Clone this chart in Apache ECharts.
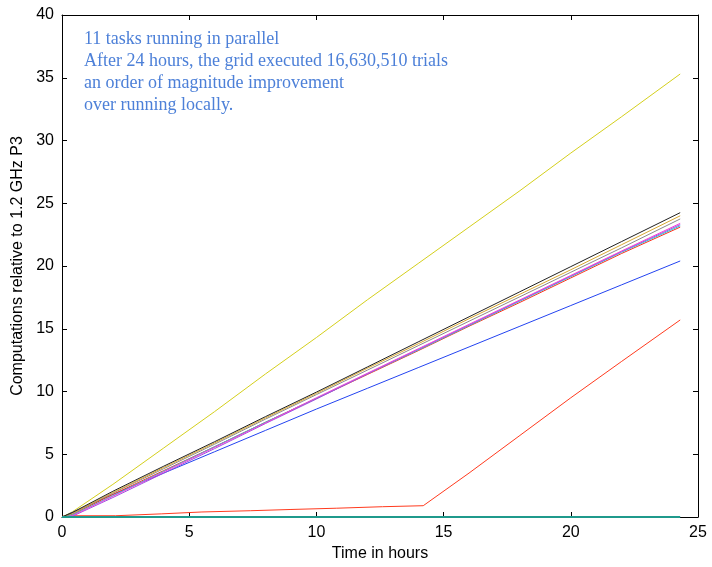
<!DOCTYPE html>
<html>
<head>
<meta charset="utf-8">
<script src="https://cdn.jsdelivr.net/npm/echarts@6/dist/echarts.min.js"></script>
<style>
  html, body { margin: 0; padding: 0; background: #fff; }
  #chart { width: 712px; height: 567px; }
</style>
</head>
<body>
<div id="chart"></div>
<script>
// sample times (hours) shared by most tasks
const hours = [0, 0.4, 2, 4, 6, 8, 10, 12, 14, 16, 18, 20, 22, 24.3];

const yellowTask = [0, 0.4, 2.6, 5.5, 8.4, 11.4, 14.3, 17.3, 20.2, 23.1, 26.0, 29.0, 31.9, 35.3];
const blackTask = [0, 0.35, 2.05, 4.05, 6.0, 8.0, 9.95, 11.95, 13.95, 15.95, 17.95, 19.95, 21.95, 24.25];
const goldTask = [0, 0.3, 1.95, 3.95, 5.9, 7.9, 9.85, 11.85, 13.8, 15.8, 17.75, 19.7, 21.7, 24.0];
const grayTask = [0, 0.25, 1.9, 3.85, 5.8, 7.8, 9.75, 11.7, 13.65, 15.6, 17.55, 19.5, 21.45, 23.75];
const magentaTask = [0, 0.1, 1.65, 3.6, 5.55, 7.5, 9.5, 11.45, 13.4, 15.35, 17.3, 19.25, 21.2, 23.4];
const purpleTask = [0, 0.05, 1.55, 3.5, 5.45, 7.45, 9.4, 11.4, 13.35, 15.3, 17.25, 19.2, 21.15, 23.3];
const cyanTask = [0, 0.15, 1.7, 3.65, 5.6, 7.55, 9.45, 11.4, 13.3, 15.25, 17.2, 19.15, 21.1, 23.2];
const redTask = [0, 0.2, 1.8, 3.7, 5.6, 7.55, 9.45, 11.35, 13.25, 15.2, 17.1, 19.05, 21.0, 23.1];
const blueTask = [0, 0.35, 1.8, 3.5, 5.2, 6.9, 8.6, 10.25, 11.9, 13.55, 15.2, 16.85, 18.5, 20.4];
const tealTask = [0, 0, 0, 0, 0, 0, 0, 0, 0, 0, 0, 0, 0, 0];

// late starting task (own time samples)
const lateHours = [0, 0.3, 2.1, 2.1, 3.9, 3.9, 5.5, 5.5, 7.4, 7.4, 9.0, 9.0, 10.8, 10.8, 12.6, 12.6, 14.2, 16, 18, 20, 22, 24.3];
const lateTask = [0.05, 0.1, 0.1, 0.25, 0.25, 0.4, 0.4, 0.5, 0.5, 0.6, 0.6, 0.7, 0.7, 0.82, 0.82, 0.9, 0.9, 3.5, 6.5, 9.5, 12.4, 15.7];

const xTicks = [0, 25, 5];
const yTicks = [0, 40, 5];

const noteLines = [
  '11 tasks running in parallel',
  'After 24 hours, the grid executed 16,630,510 trials',
  'an order of magnitude improvement',
  'over running locally.'
];

function pairs(xs, ys) {
  return xs.map((x, i) => [x, ys[i]]);
}

function lineSeries(xs, ys, color, width) {
  return {
    type: 'line',
    data: pairs(xs, ys),
    showSymbol: false,
    silent: true,
    z: 3,
    lineStyle: { color: color, width: width || 1 },
    itemStyle: { color: color }
  };
}

const chart = echarts.init(document.getElementById('chart'));

const labelFont = { color: '#000', fontSize: 16, fontFamily: 'Liberation Sans, Arial, sans-serif' };
const boxAxis = {
  min: 0,
  axisLine: { show: true, onZero: false, lineStyle: { color: '#000', width: 1 } },
  axisTick: { show: true, inside: true, length: 5, lineStyle: { color: '#000' } },
  splitLine: { show: false }
};

chart.setOption({
  animation: false,
  backgroundColor: '#fff',
  grid: { left: 62, right: 14, top: 15, bottom: 50 },
  xAxis: [
    Object.assign({}, boxAxis, {
      type: 'value', position: 'bottom', max: xTicks[1], interval: xTicks[2],
      axisLabel: Object.assign({ margin: 8 }, labelFont),
      name: 'Time in hours', nameLocation: 'middle', nameGap: 22,
      nameTextStyle: labelFont
    }),
    Object.assign({}, boxAxis, {
      type: 'value', position: 'top', max: xTicks[1], interval: xTicks[2],
      axisLabel: { show: false }
    })
  ],
  yAxis: [
    Object.assign({}, boxAxis, {
      type: 'value', position: 'left', max: yTicks[1], interval: yTicks[2],
      axisLabel: Object.assign({ margin: 8 }, labelFont),
      name: 'Computations relative to 1.2 GHz P3', nameLocation: 'middle', nameGap: 36,
      nameTextStyle: labelFont
    }),
    Object.assign({}, boxAxis, {
      type: 'value', position: 'right', max: yTicks[1], interval: yTicks[2],
      axisLabel: { show: false }
    })
  ],
  series: [
    lineSeries(hours, yellowTask, '#d4cf1c'),
    lineSeries(hours, blueTask, '#2343f0'),
    lineSeries(lateHours, lateTask, '#ff3a1e'),
    lineSeries(hours, redTask, '#ff2d1a'),
    lineSeries(hours, cyanTask, '#22cfd6'),
    lineSeries(hours, purpleTask, '#a050e0'),
    lineSeries(hours, magentaTask, '#f040d8'),
    lineSeries(hours, grayTask, '#8a8a8a'),
    lineSeries(hours, goldTask, '#d8a830'),
    lineSeries(hours, blackTask, '#222222'),
    lineSeries(hours, tealTask, '#1f9a8c', 2)
  ],
  graphic: [{
    type: 'text',
    left: 84,
    top: 28,
    z: 10,
    style: {
      text: noteLines.join('\n'),
      fill: '#4d80d8',
      fontSize: 18,
      lineHeight: 22,
      fontFamily: 'Liberation Serif, Times New Roman, serif'
    }
  }]
});
</script>
</body>
</html>
